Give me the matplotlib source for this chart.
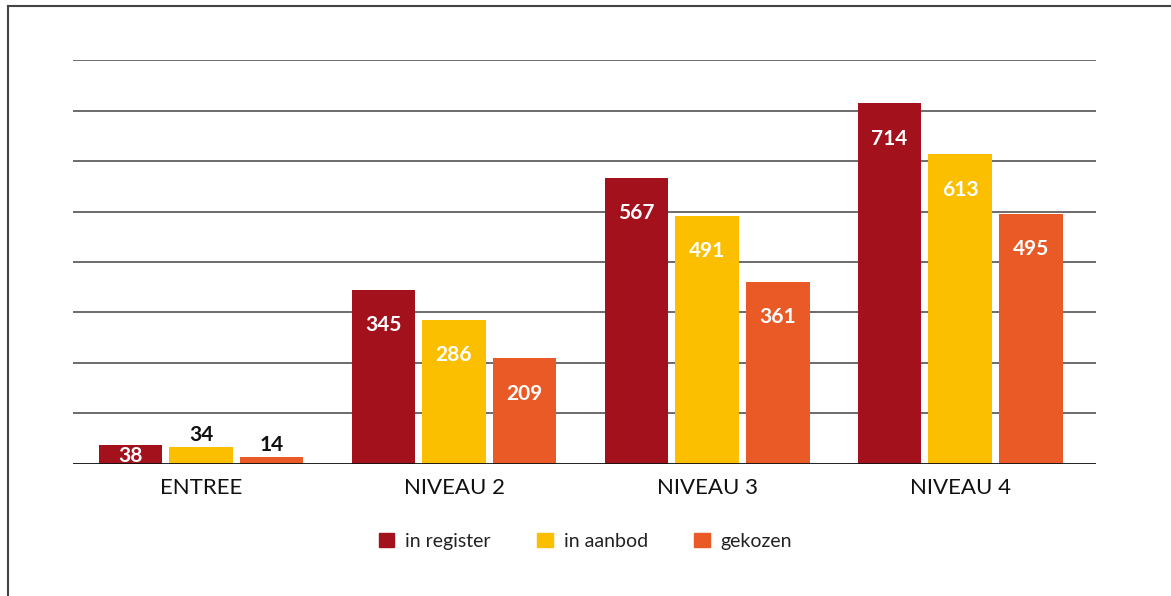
import matplotlib.pyplot as plt
from matplotlib.lines import Line2D
from matplotlib.patches import Patch
import numpy as np

categories = ["ENTREE", "NIVEAU 2", "NIVEAU 3", "NIVEAU 4"]
series_names = ["in register", "in aanbod", "gekozen"]
in_register = [38, 345, 567, 714]
in_aanbod = [34, 286, 491, 613]
gekozen = [14, 209, 361, 495]

colors = ["#A3121C", "#FBBF00", "#E95A27"]
plt.rcParams["font.family"] = ["Lato", "DejaVu Sans"]

fig = plt.figure(figsize=(11.71, 5.96), dpi=100)
ax = fig.add_axes([0.0623, 0.2215, 0.8736, 0.6778])

x = np.arange(len(categories))
offsets = [-0.28, 0.0, 0.28]
width = 0.25

# gridlines behind the bars
for v in range(100, 900, 100):
    ax.axhline(v, color="#444444", lw=1.1, zorder=0)
ax.axhline(0, color="#111111", lw=1.3, zorder=3)

for i, vals in enumerate([in_register, in_aanbod, gekozen]):
    bars = ax.bar(x + offsets[i], vals, width, color=colors[i], zorder=2)
    for b, v in zip(bars, vals):
        cx = b.get_x() + b.get_width() / 2
        if v >= 100:
            ax.annotate(str(v), (cx, v), xytext=(0, -25.5), textcoords="offset points",
                        ha="center", va="center", color="white",
                        fontsize=15, fontweight="bold", zorder=4)
        elif i == 0:
            ax.annotate(str(v), (cx, v / 2), xytext=(0, -1), textcoords="offset points",
                        ha="center", va="center", color="white",
                        fontsize=15, fontweight="bold", zorder=4)
        else:
            ax.annotate(str(v), (cx, v), xytext=(0, 1.5), textcoords="offset points",
                        ha="center", va="bottom", color="#111111",
                        fontsize=15, fontweight="bold", zorder=4)

ax.set_xlim(-0.506, 3.537)
ax.set_ylim(0, 800)
ax.set_xticks(x)
ax.set_xticklabels(categories, fontsize=16, color="#111111")
ax.tick_params(axis="x", length=0, pad=10)
ax.set_yticks([])
for s in ax.spines.values():
    s.set_visible(False)

handles = [Patch(color=c) for c in colors]
fig.legend(handles, series_names, loc="center", bbox_to_anchor=(0.5, 0.092),
           ncol=3, frameon=False, fontsize=14, handlelength=0.8, handleheight=0.8,
           columnspacing=2.4, handletextpad=0.55, labelcolor="#222222")

# frame lines on the left and top
fig.add_artist(Line2D([0.0065, 0.0065], [0, 0.99], transform=fig.transFigure,
                      color="#444444", lw=1.5))
fig.add_artist(Line2D([0.0065, 1.0], [0.99, 0.99], transform=fig.transFigure,
                      color="#444444", lw=1.5))

fig.savefig("out.png", dpi=100)
